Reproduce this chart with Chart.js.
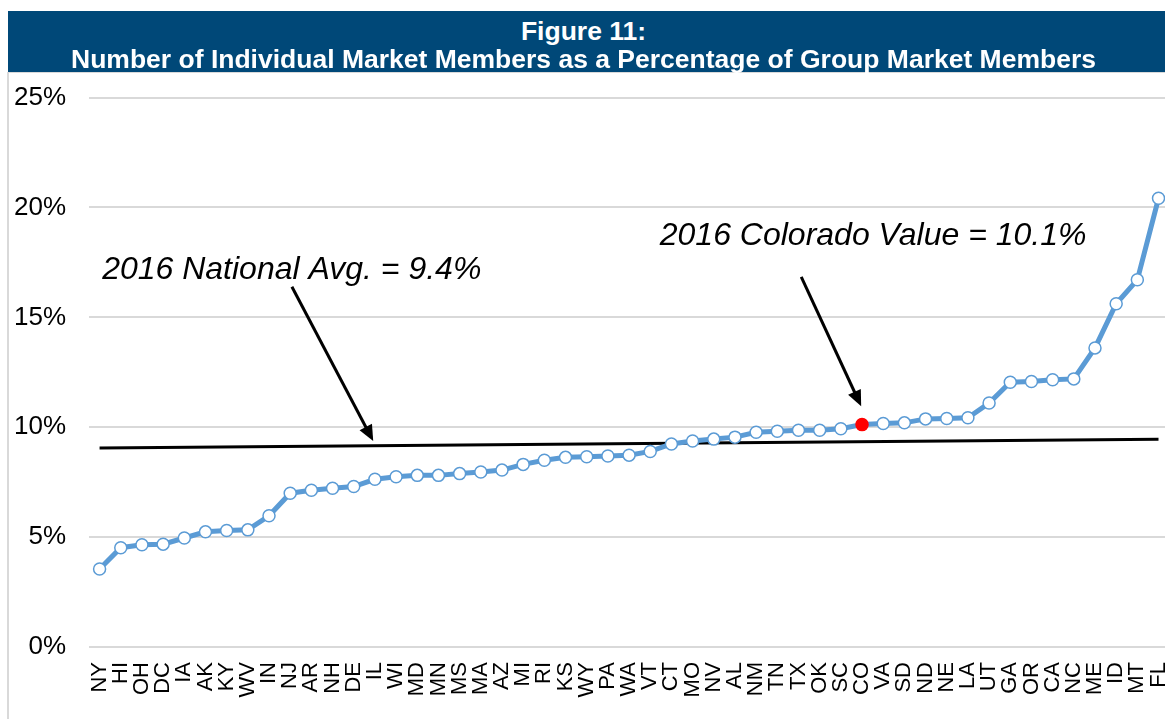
<!DOCTYPE html>
<html>
<head>
<meta charset="utf-8">
<script src="https://cdn.jsdelivr.net/npm/chart.js@4"></script>
<style>
  html, body { margin: 0; padding: 0; background: #fff; width: 1165px; height: 719px; overflow: hidden; }
  #titleBar { position: absolute; left: 8px; top: 11px; width: 1165px; height: 61px; background: #004878; }
  .tl { position: absolute; left: 7px; width: 1153px; text-align: center; color: #fff; line-height: 26px;
        font: bold 26.5px "Liberation Sans", Arial, sans-serif; white-space: nowrap; }
  #frame { position: absolute; left: 7px; top: 72px; width: 1170px; height: 660px;
           border-left: 2px solid #d9d9d9; border-top: 1px solid #d9d9d9; }
  #wrap { position: absolute; left: 0; top: 59px; width: 1200px; height: 660px; }
</style>
</head>
<body>
<div id="titleBar"></div>
<div id="frame"></div>
<div id="wrap"><canvas id="chart" width="1200" height="660"></canvas></div>
<div class="tl" style="top:16px">Figure 11:</div>
<div class="tl" style="top:44px">Number of Individual Market Members as a Percentage of Group Market Members</div>
<script>
// states sorted by ratio, 2016
const states = ['NY','HI','OH','DC','IA','AK','KY','WV','IN','NJ','AR','NH','DE','IL','WI','MD','MN','MS','MA','AZ',
  'MI','RI','KS','WY','PA','WA','VT','CT','MO','NV','AL','NM','TN','TX','OK','SC','CO','VA','SD','ND',
  'NE','LA','UT','GA','OR','CA','NC','ME','ID','MT','FL'];
const pctIndividual = [3.55,4.52,4.65,4.68,4.96,5.24,5.30,5.33,5.97,7.00,7.13,7.22,7.30,7.63,7.75,7.81,7.81,7.89,7.96,8.05,
  8.31,8.50,8.63,8.66,8.69,8.73,8.90,9.24,9.37,9.46,9.55,9.77,9.82,9.86,9.86,9.93,10.12,10.17,10.20,10.38,
  10.40,10.43,11.10,12.05,12.08,12.16,12.20,13.61,15.62,16.71,20.42];
const nationalAvgEnds = [9.06, 9.45];   // trend line at first and last state
const highlightState = 'CO';
const yTicks = [0, 5, 10, 15, 20, 25];

// callouts, in data units (category index, percent)
const callouts = [
  { text: '2016 National Avg. = 9.4%', x: 0.12, y: 16.76, from: [9.08, 16.39], to: [12.92, 9.37] },
  { text: '2016 Colorado Value = 10.1%', x: 26.45, y: 18.3, from: [33.13, 16.84], to: [35.96, 10.95] }
];

const blue = '#5b9bd5';

const calloutPlugin = {
  id: 'callouts',
  afterDraw(chart) {
    const ctx = chart.ctx, xs = chart.scales.x, ys = chart.scales.y;
    const px = v => xs.left + (xs.getPixelForValue(1) - xs.getPixelForValue(0)) * (v + 0.5);
    ctx.save();
    ctx.fillStyle = '#000';
    ctx.strokeStyle = '#000';
    ctx.font = 'italic 32px "Liberation Sans", Arial, sans-serif';
    ctx.textBaseline = 'alphabetic';
    callouts.forEach(c => {
      ctx.fillText(c.text, px(c.x), ys.getPixelForValue(c.y));
      const x1 = px(c.from[0]), y1 = ys.getPixelForValue(c.from[1]);
      const x2 = px(c.to[0]), y2 = ys.getPixelForValue(c.to[1]);
      const a = Math.atan2(y2 - y1, x2 - x1), hl = 16, hw = 7;
      ctx.lineWidth = 3;
      ctx.beginPath();
      ctx.moveTo(x1, y1);
      ctx.lineTo(x2 - Math.cos(a) * hl * 0.8, y2 - Math.sin(a) * hl * 0.8);
      ctx.stroke();
      ctx.beginPath();
      ctx.moveTo(x2, y2);
      ctx.lineTo(x2 - Math.cos(a) * hl - Math.sin(a) * hw, y2 - Math.sin(a) * hl + Math.cos(a) * hw);
      ctx.lineTo(x2 - Math.cos(a) * hl + Math.sin(a) * hw, y2 - Math.sin(a) * hl - Math.cos(a) * hw);
      ctx.closePath();
      ctx.fill();
    });
    ctx.restore();
  }
};

new Chart(document.getElementById('chart'), {
  type: 'line',
  data: {
    labels: states,
    datasets: [{
      data: pctIndividual,
      borderColor: blue,
      borderWidth: 5,
      pointRadius: 6,
      pointBorderWidth: 1.5,
      pointBorderColor: states.map(s => s === highlightState ? '#ff0000' : blue),
      pointBackgroundColor: states.map(s => s === highlightState ? '#ff0000' : '#ffffff'),
      tension: 0,
      order: 0
    }, {
      data: [{ x: states[0], y: nationalAvgEnds[0] }, { x: states[states.length - 1], y: nationalAvgEnds[1] }],
      borderColor: '#000',
      borderWidth: 3,
      pointRadius: 0,
      order: 1
    }]
  },
  options: {
    responsive: false,
    animation: false,
    layout: { padding: { top: 7, right: 0, bottom: 0, left: 0 } },
    plugins: { legend: { display: false }, tooltip: { enabled: false } },
    scales: {
      x: {
        offset: true,
        grid: { display: false, drawTicks: false },
        border: { display: false },
        ticks: {
          autoSkip: false, maxRotation: 90, minRotation: 90, padding: 15, color: '#000',
          font: { family: '"Liberation Sans", Arial, sans-serif', size: 22 }
        },
        afterFit: s => { s.height = 72; }
      },
      y: {
        min: 0, max: 25,
        afterBuildTicks: s => { s.ticks = yTicks.map(v => ({ value: v })); },
        grid: { color: '#d9d9d9', lineWidth: 2, drawTicks: false },
        border: { display: false },
        ticks: {
          padding: 23, color: '#000',
          font: { family: '"Liberation Sans", Arial, sans-serif', size: 26 },
          callback: v => v + '%'
        },
        afterFit: s => { s.width = 89; }
      }
    }
  },
  plugins: [calloutPlugin]
});
</script>
</body>
</html>
